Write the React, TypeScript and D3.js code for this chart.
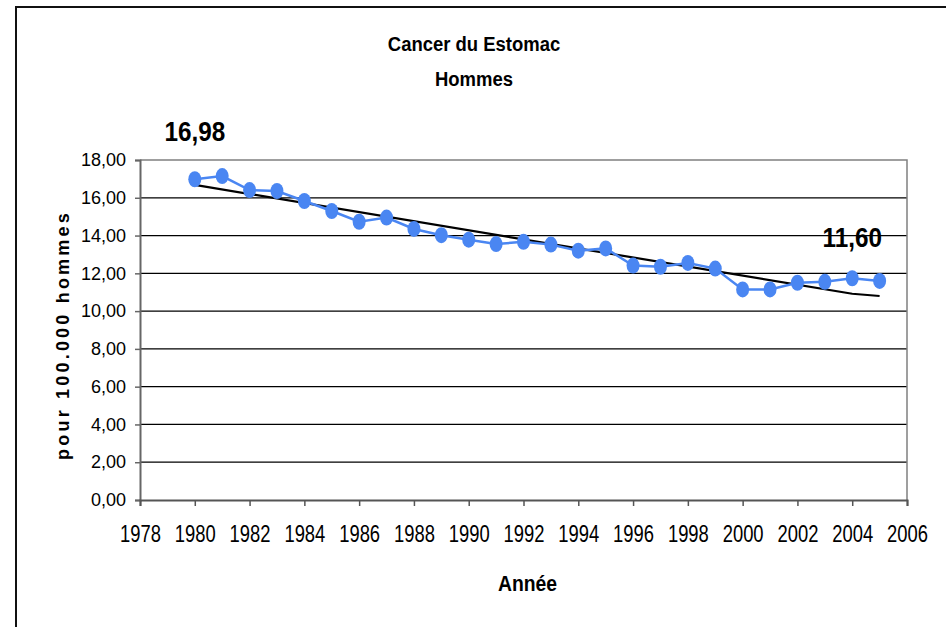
import React, { useEffect, useRef } from 'react';
import * as d3 from 'd3';

// Stomach cancer rate, men, per 100.000
const years = [1980, 1981, 1982, 1983, 1984, 1985, 1986, 1987, 1988, 1989, 1990, 1991, 1992,
  1993, 1994, 1995, 1996, 1997, 1998, 1999, 2000, 2001, 2002, 2003, 2004, 2005];
const rates = [16.98, 17.15, 16.41, 16.36, 15.83, 15.3, 14.73, 14.95, 14.35, 14.02, 13.78, 13.55, 13.67,
  13.52, 13.2, 13.32, 12.41, 12.35, 12.55, 12.25, 11.15, 11.15, 11.5, 11.55, 11.74, 11.6];

// trend line as drawn in the original
const trendYears = [1980, 2004, 2005];
const trendValues = [16.68, 10.92, 10.8];

const yTicks = [0, 2, 4, 6, 8, 10, 12, 14, 16, 18];
const xTicks = [1978, 1980, 1982, 1984, 1986, 1988, 1990, 1992, 1994, 1996, 1998, 2000, 2002, 2004, 2006];

const labels = [
  { year: 1980, text: '16,98', baseline: 141 },
  { year: 2004, text: '11,60', baseline: 247 },
];

const fmt = (v: number) => v.toFixed(2).replace('.', ',');

const App = () => {
  const svgRef = useRef<SVGSVGElement>(null);

  useEffect(() => {
    const width = 946, height = 627;
    const plot = { left: 140, right: 907, top: 160, bottom: 500 };
    const font = 'Liberation Sans, Arial, sans-serif';

    const svg = d3.select(svgRef.current);
    svg.selectAll('*').remove();
    svg.attr('width', width).attr('height', height).style('background', 'white');

    // outer frame (right/bottom edges fall outside the picture)
    svg.append('rect')
      .attr('x', 16).attr('y', 7)
      .attr('width', 960).attr('height', 660)
      .attr('fill', 'none')
      .attr('stroke', '#111')
      .attr('stroke-width', 2);

    const x = d3.scaleLinear().domain([1978, 2006]).range([plot.left, plot.right]);
    const y = d3.scaleLinear().domain([0, 18]).range([plot.bottom, plot.top]);

    // narrow-looking text like the original
    const addText = (tx: number, ty: number, txt: string, f: string, sx: number) =>
      svg.append('text')
        .attr('transform', `translate(${tx},${ty}) scale(${sx},1)`)
        .attr('text-anchor', 'middle')
        .style('font', f)
        .text(txt);

    // title
    addText(474, 51, 'Cancer du Estomac', `bold 21px ${font}`, 0.88);
    addText(474, 86, 'Hommes', `bold 21px ${font}`, 0.88);

    // gridlines
    svg.append('g')
      .selectAll('line')
      .data(yTicks.filter(t => t > 0 && t < 18))
      .enter()
      .append('line')
      .attr('x1', plot.left).attr('x2', plot.right)
      .attr('y1', d => y(d)).attr('y2', d => y(d))
      .attr('stroke', '#000')
      .attr('stroke-width', 1.2);

    // plot border top/right
    svg.append('path')
      .attr('d', `M${plot.left},${y(18)}H${plot.right}V${plot.bottom}`)
      .attr('fill', 'none')
      .attr('stroke', '#808080')
      .attr('stroke-width', 1.5);

    // y axis
    const yAxis = svg.append('g')
      .attr('transform', `translate(${plot.left},0)`)
      .call(d3.axisLeft(y).tickValues(yTicks).tickFormat(d => fmt(+d)).tickSize(5).tickPadding(9));
    yAxis.select('.domain').attr('stroke', '#666').attr('stroke-width', 2);
    yAxis.selectAll('.tick line').attr('stroke', '#666').attr('stroke-width', 1.5);
    yAxis.selectAll('text').style('font', `18px ${font}`).attr('fill', '#000');

    // x axis
    const xAxis = svg.append('g')
      .attr('transform', `translate(0,${plot.bottom})`)
      .call(d3.axisBottom(x).tickValues(xTicks).tickFormat(d3.format('d')).tickSize(6));
    xAxis.select('.domain').attr('stroke', '#555').attr('stroke-width', 2);
    xAxis.selectAll('.tick line').attr('stroke', '#555').attr('stroke-width', 1.5);
    xAxis.selectAll('text')
      .attr('y', 42)
      .attr('dy', null)
      .attr('transform', 'scale(0.8,1)')
      .style('font', `23px ${font}`)
      .attr('fill', '#000');

    // axis titles
    addText((plot.left + plot.right) / 2 + 4, 591, 'Année', `bold 22px ${font}`, 0.88);
    svg.append('text')
      .attr('transform', `translate(69,${(plot.top + plot.bottom) / 2 + 5}) rotate(-90)`)
      .attr('text-anchor', 'middle')
      .style('font', `bold 18px ${font}`)
      .style('letter-spacing', '3.2px')
      .text('pour 100.000 hommes');

    // trend line
    const trend = trendYears.map((yr, i) => [yr, trendValues[i]] as [number, number]);
    svg.append('path')
      .datum(trend)
      .attr('d', d3.line<[number, number]>().x(d => x(d[0])).y(d => y(d[1])))
      .attr('fill', 'none')
      .attr('stroke', '#000')
      .attr('stroke-width', 2.2);

    // data series
    const series = years.map((yr, i) => [yr, rates[i]] as [number, number]);
    svg.append('path')
      .datum(series)
      .attr('d', d3.line<[number, number]>().x(d => x(d[0])).y(d => y(d[1])))
      .attr('fill', 'none')
      .attr('stroke', '#4a86f2')
      .attr('stroke-width', 2.5);

    svg.append('g')
      .selectAll('ellipse')
      .data(series)
      .enter()
      .append('ellipse')
      .attr('cx', d => x(d[0]))
      .attr('cy', d => y(d[1]))
      .attr('rx', 6.5)
      .attr('ry', 8)
      .attr('fill', '#4a86f2');

    // data labels
    labels.forEach(l => addText(x(l.year), l.baseline, l.text, `bold 27px ${font}`, 0.9));
  }, []);

  return <svg ref={svgRef} style={{ position: 'absolute', left: 0, top: 0 }} />;
};

export default App;
